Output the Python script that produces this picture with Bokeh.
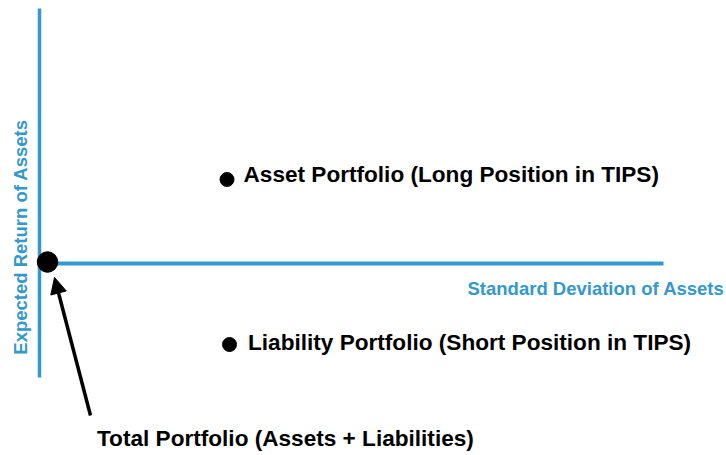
from bokeh.plotting import figure
from bokeh.models import Range1d, Arrow, NormalHead, ColumnDataSource
from bokeh.core.properties import value
from bokeh.embed import file_html
from bokeh.resources import INLINE

# Conceptual data (origin = axis crossing; units ~ pixels)
portfolio_names = ["Asset Portfolio (Long Position in TIPS)",
                   "Liability Portfolio (Short Position in TIPS)"]
portfolio_x = [187.5, 190]
portfolio_y = [84, -81]
label_x = [204, 208.5]
label_y = [89, -79]

total_name = "Total Portfolio (Assets + Liabilities)"
total_x = [8]
total_y = [1.5]
total_label_x = [57.5]
total_label_y = [-175]
arrow_from = (51, -152)
arrow_to = (15, -14)

axis_v_y = [255, -114]
axis_h_x = [0, 624]

x_title = "Standard Deviation of Assets"
y_title = "Expected Return of Assets"

BLUE = "#3399cc"
FONT = value("Liberation Sans")

p = figure(width=726, height=455, output_backend="svg", toolbar_location=None,
           x_range=Range1d(-39, 687), y_range=Range1d(-192, 263),
           min_border=0, outline_line_color=None)
p.axis.visible = False
p.grid.visible = False
p.background_fill_color = "white"
p.border_fill_color = "white"

# axes lines
p.line(x=[0, 0], y=axis_v_y, line_color=BLUE, line_width=3.5)
p.line(x=axis_h_x, y=[0, 0], line_color=BLUE, line_width=4)

# axis titles
p.text(x=[428], y=[-25], text=[x_title], text_color=BLUE, text_font=FONT,
       text_font_style="bold", text_font_size="18.5px", text_align="left",
       text_baseline="middle")
p.text(x=[-19], y=[26.5], text=[y_title], text_color=BLUE, text_font=FONT,
       text_font_style="bold", text_font_size="18.5px", text_align="center",
       text_baseline="middle", angle=1.5708)

# portfolios
src = ColumnDataSource(dict(x=portfolio_x, y=portfolio_y, lx=label_x, ly=label_y,
                            name=portfolio_names))
p.scatter(x="x", y="y", source=src, size=14, color="black")
p.text(x="lx", y="ly", text="name", source=src, text_font=FONT,
       text_font_style="bold", text_font_size="22.6px", text_color="black",
       text_align="left", text_baseline="middle")

# total portfolio
p.scatter(x=total_x, y=total_y, size=20.5, color="black")
p.text(x=total_label_x, y=total_label_y, text=[total_name], text_font=FONT,
       text_font_style="bold", text_font_size="22.6px", text_color="black",
       text_align="left", text_baseline="middle")
p.add_layout(Arrow(end=NormalHead(size=16, fill_color="black", line_color="black"),
                   x_start=arrow_from[0], y_start=arrow_from[1],
                   x_end=arrow_to[0], y_end=arrow_to[1],
                   line_width=3.5, line_color="black"))

open("out.html", "w").write(file_html(p, INLINE))
